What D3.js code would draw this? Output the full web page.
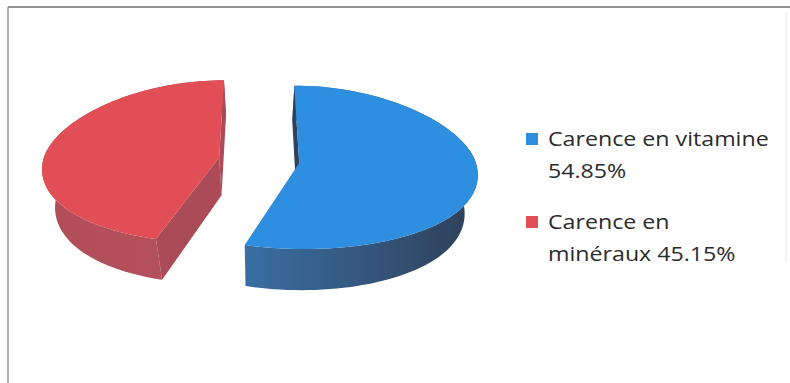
<!DOCTYPE html>
<html>
<head>
<meta charset="utf-8">
<script src="https://cdn.jsdelivr.net/npm/d3@7"></script>
<style>
  html, body { margin: 0; padding: 0; background: #ffffff; }
  svg { display: block; }
</style>
</head>
<body>
<script>
// Chart data
const categories = ["Carence en vitamine", "Carence en minéraux"];
const values = [54.85, 45.15];
// Legend wording, one array of lines per category (value appended to the last line)
const legendLines = [["Carence en vitamine", ""], ["Carence en", "minéraux "]];
const topColors = ["#2e8ee0", "#e24e56"];
const wallColors = ["#2d4160", "#ab4b57"];
const sideStops = [["#3a6ea3", "#2f4058"], ["#b04d58", "#b5525d"]];

const W = 790, H = 383;
const svg = d3.select("body").append("svg").attr("width", W).attr("height", H);

// Frame around the chart area
svg.append("line").attr("x1", 8).attr("y1", 7).attr("x2", W).attr("y2", 7)
  .attr("stroke", "#6f6f6f").attr("stroke-width", 1.4);
svg.append("line").attr("x1", 8).attr("y1", 7).attr("x2", 8).attr("y2", H)
  .attr("stroke", "#888").attr("stroke-width", 1.3);
svg.append("line").attr("x1", 786).attr("y1", 12).attr("x2", 786).attr("y2", 262)
  .attr("stroke", "#e6e6e6").attr("stroke-width", 1);

// 3D pie geometry: unit disk projected with a little perspective
const g3 = { cx: 259, cy: 160, rx: 176, ryFar: 77, ryNear: 86, depth: 38,
             px: 0.12, ph: 0.06, pz: 0.08, explode: 0.23 };

function proj(X, Z, h) {
  const s = 1 + g3.px * Z;
  const x = g3.cx + g3.rx * X * s * (1 - g3.ph * h);
  const y = g3.cy + (Z < 0 ? g3.ryFar : g3.ryNear) * Z + g3.depth * h * (1 + g3.pz * Z);
  return [x, y];
}

const arcs = d3.pie().sort(null).value(d => d)(values);

const defs = svg.append("defs");
sideStops.forEach((st, i) => {
  const lg = defs.append("linearGradient").attr("id", "side" + i)
    .attr("x1", "0%").attr("x2", "100%").attr("y1", "0%").attr("y2", "0%");
  lg.append("stop").attr("offset", "0%").attr("stop-color", st[0]);
  lg.append("stop").attr("offset", "100%").attr("stop-color", st[1]);
});

const line = d3.line();
function area(pts) {
  let a = 0;
  for (let i = 0; i < pts.length; i++) {
    const p = pts[i], q = pts[(i + 1) % pts.length];
    a += p[0] * q[1] - q[0] * p[1];
  }
  return a;
}

const pieG = svg.append("g");
// draw the slice at the back-left first
[1, 0].forEach(i => {
  const a = arcs[i];
  const mid = (a.startAngle + a.endAngle) / 2;
  const ox = g3.explode * Math.sin(mid), oz = -g3.explode * Math.cos(mid);
  const rim = (t, h) => proj(ox + Math.sin(t), oz - Math.cos(t), h);
  const ctr = h => proj(ox, oz, h);
  const n = 90;
  const angles = d3.range(n + 1).map(k => a.startAngle + (a.endAngle - a.startAngle) * k / n);

  const g = pieG.append("g");

  // outer curved side
  const sidePts = angles.map(t => rim(t, 0)).concat(angles.slice().reverse().map(t => rim(t, 1)));
  g.append("path").attr("d", line(sidePts) + "Z").attr("fill", "url(#side" + i + ")");

  // radial cut walls that face the viewer
  [[a.startAngle, -1], [a.endAngle, 1]].forEach(([t, sgn]) => {
    const q = [ctr(0), rim(t, 0), rim(t, 1), ctr(1)];
    if (area(q) * sgn > 0) {
      g.append("path").attr("d", line(q) + "Z").attr("fill", wallColors[i]);
    }
  });

  // top face
  const topPts = [ctr(0)].concat(angles.map(t => rim(t, 0)));
  g.append("path").attr("d", line(topPts) + "Z").attr("fill", topColors[i]);
});

// Legend
const legend = svg.append("g").attr("font-family", "'Open Sans', sans-serif")
  .attr("font-size", 20).attr("fill", "#2b2b2b");
const legendTop = [146, 229];
const textX = 548, stretch = 1.16;
categories.forEach((c, i) => {
  const y0 = legendTop[i];
  legend.append("rect").attr("x", 526).attr("y", y0 - 13).attr("width", 12).attr("height", 12)
    .attr("fill", topColors[i]);
  const lines = legendLines[i].slice();
  lines[lines.length - 1] += values[i].toFixed(2) + "%";
  const tg = legend.append("g")
    .attr("transform", `translate(${textX},0) scale(${stretch},1)`);
  lines.forEach((t, k) => {
    tg.append("text").attr("x", 0).attr("y", y0 + k * 32).text(t);
  });
});
</script>
</body>
</html>
